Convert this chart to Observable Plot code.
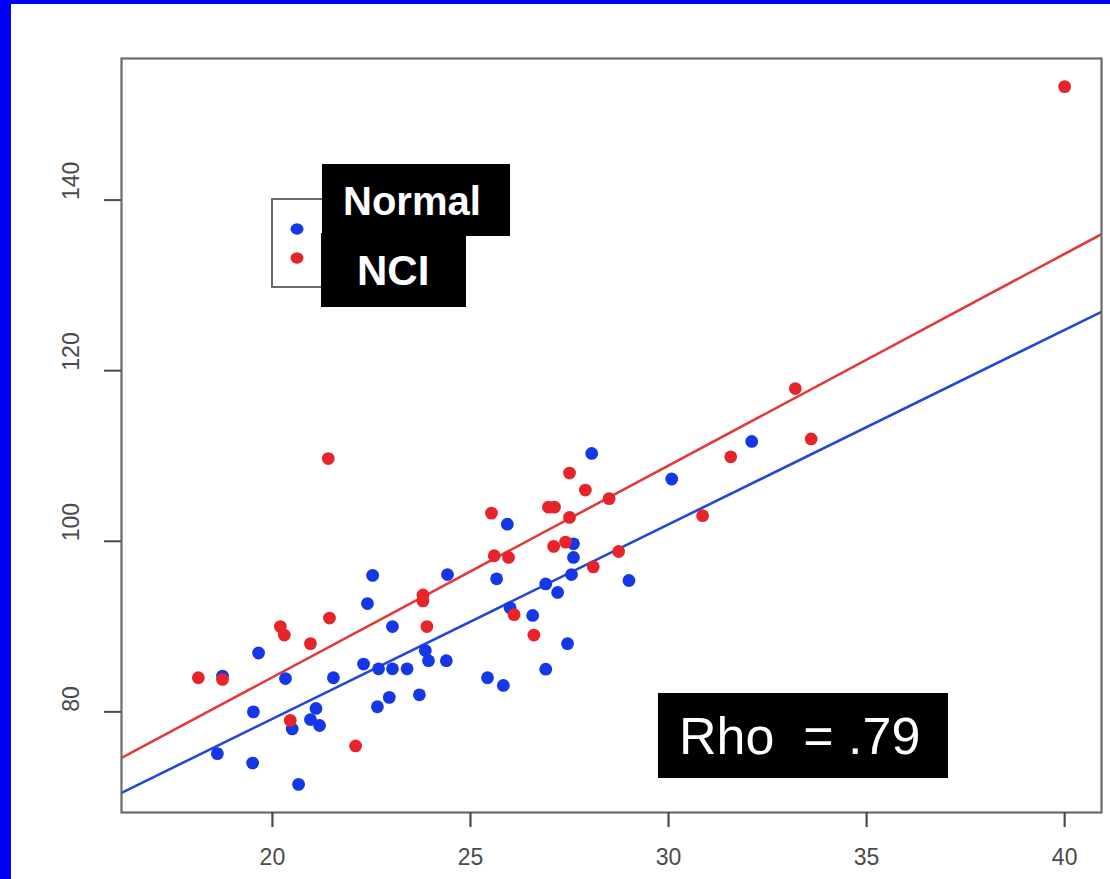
<!DOCTYPE html>
<html>
<head>
<meta charset="utf-8">
<script src="https://cdn.jsdelivr.net/npm/d3@7"></script>
<script src="https://cdn.jsdelivr.net/npm/@observablehq/plot@0.6"></script>
<style>
  html, body { margin: 0; padding: 0; background: #0000fa; width: 1110px; height: 879px; overflow: hidden; }
  #wrap { position: absolute; left: 11px; top: 4px; width: 1099px; height: 875px; background: #ffffff; }
  #wrap svg.plot { position: absolute; left: 0; top: 0; }
  #overlay { position: absolute; left: 0; top: 0; pointer-events: none; }
</style>
</head>
<body>
<div id="wrap"><div id="chart"></div></div>
<script>
// ---- data ----
const normalX = [18.61, 18.74, 19.5, 19.52, 19.65, 20.33, 20.5, 20.66, 20.96, 21.1, 21.19, 21.54, 22.3, 22.4, 22.53, 22.65, 22.68, 22.95, 23.03, 23.03, 23.4, 23.71, 23.86, 23.94, 24.39, 24.42, 25.43, 25.66, 25.83, 25.93, 26.0, 26.57, 26.9, 26.9, 27.2, 27.45, 27.55, 27.6, 27.6, 28.06, 29.0, 30.08, 32.1];
const normalY = [75.1, 84.2, 74.0, 80.0, 86.9, 83.9, 78.0, 71.5, 79.1, 80.4, 78.4, 84.0, 85.6, 92.7, 96.0, 80.6, 85.05, 81.7, 90.0, 85.05, 85.05, 82.0, 87.2, 86.0, 86.0, 96.1, 84.0, 95.6, 83.1, 102.0, 92.2, 91.3, 85.0, 95.0, 94.0, 88.0, 96.1, 98.1, 99.7, 110.3, 95.4, 107.3, 111.7];
const nciX = [18.13, 18.74, 20.2, 20.3, 20.45, 20.96, 21.41, 21.44, 22.1, 23.8, 23.8, 23.9, 25.53, 25.6, 25.96, 26.1, 26.6, 26.97, 27.12, 27.1, 27.4, 27.5, 27.5, 27.9, 28.1, 28.5, 28.74, 30.86, 31.57, 33.2, 33.6, 40.0];
const nciY = [84.0, 83.8, 90.0, 89.0, 79.0, 88.0, 109.7, 91.0, 76.0, 93.7, 93.0, 90.0, 103.3, 98.3, 98.1, 91.4, 89.0, 104.0, 104.0, 99.4, 99.9, 108.0, 102.8, 106.0, 97.0, 105.0, 98.8, 103.0, 109.9, 117.9, 112.0, 153.3];
// fitted lines, read at the left and right edges of the plot frame
const fitX = [16.19, 40.93];
const normalFitY = [70.5, 126.9];
const nciFitY = [74.6, 136.0];
const xTicks = [20, 25, 30, 35, 40];
const yTicks = [80, 100, 120, 140];
const groups = ["Normal", "NCI"];
const groupColors = ["#1438e8", "#e62429"];
const lineColors = ["#2448d6", "#e23a3a"];
const rhoLabel = "Rho  = .79";

// ---- tables built from the arrays ----
const pts = [
  ...normalX.map((x, i) => ({x, y: normalY[i], g: groups[0]})),
  ...nciX.map((x, i) => ({x, y: nciY[i], g: groups[1]}))
];
const fits = [
  ...fitX.map((x, i) => ({x, y: normalFitY[i], g: groups[0]})),
  ...fitX.map((x, i) => ({x, y: nciFitY[i], g: groups[1]}))
];

const font = "'Liberation Sans', Arial, Helvetica, sans-serif";

const chart = Plot.plot({
  width: 1099,
  height: 875,
  marginLeft: 110,
  marginRight: 9,
  marginTop: 54,
  marginBottom: 67,
  style: {background: "#ffffff", fontFamily: font, overflow: "visible"},
  x: {domain: [16.19, 40.93], label: null},
  y: {domain: [68.2, 156.6], label: null},
  color: {domain: groups, range: groupColors},
  marks: [
    Plot.line(fits.filter(d => d.g === groups[0]), {x: "x", y: "y", stroke: lineColors[0], strokeWidth: 2.6, clip: true}),
    Plot.line(fits.filter(d => d.g === groups[1]), {x: "x", y: "y", stroke: lineColors[1], strokeWidth: 2.6, clip: true}),
    Plot.dot(pts, {x: "x", y: "y", fill: "g", r: 6.4, stroke: null}),
    Plot.frame({stroke: "#6a6a6a", strokeWidth: 2.2}),
    Plot.axisX({ticks: xTicks, label: null, tickSize: 15, tickPadding: 21, fontSize: 23, color: "#4a4a4a", strokeWidth: 2.2, tickFormat: d => String(d)}),
    Plot.axisY({ticks: yTicks, label: null, tickSize: 17, tickFormat: () => "", color: "#4a4a4a", strokeWidth: 2}),
    Plot.text(yTicks, {frameAnchor: "left", y: d => d, text: d => String(d), rotate: -90, dx: -50, fontSize: 23, fill: "#4a4a4a"})
  ]
});
document.getElementById("chart").appendChild(chart);

// ---- annotations (legend and Rho label) ----
const ov = d3.select("#wrap").append("svg")
  .attr("id", "overlay").attr("width", 1099).attr("height", 875)
  .style("font-family", font);
// legend box
ov.append("rect").attr("x", 261).attr("y", 195).attr("width", 70).attr("height", 88)
  .attr("fill", "#fff").attr("stroke", "#6a6a6a").attr("stroke-width", 2);
groups.forEach((g, i) => {
  ov.append("ellipse").attr("cx", 286).attr("cy", 225 + i * 29).attr("rx", 6.5).attr("ry", 5.8).attr("fill", groupColors[i]);
});
// black label boxes
ov.append("rect").attr("x", 311).attr("y", 160).attr("width", 188).attr("height", 72).attr("fill", "#000");
ov.append("rect").attr("x", 310).attr("y", 229).attr("width", 145).attr("height", 74).attr("fill", "#000");
ov.append("text").attr("x", 332).attr("y", 211).attr("fill", "#fff").attr("font-weight", "bold").attr("font-size", 40).text(groups[0]);
ov.append("text").attr("x", 346).attr("y", 281).attr("fill", "#fff").attr("font-weight", "bold").attr("font-size", 42).text(groups[1]);
// Rho box
ov.append("rect").attr("x", 647).attr("y", 689).attr("width", 290).attr("height", 85).attr("fill", "#000");
ov.append("text").attr("x", 668).attr("y", 750).attr("fill", "#fff").attr("font-size", 52).attr("xml:space", "preserve").style("white-space", "pre").text(rhoLabel);
</script>
</body>
</html>
